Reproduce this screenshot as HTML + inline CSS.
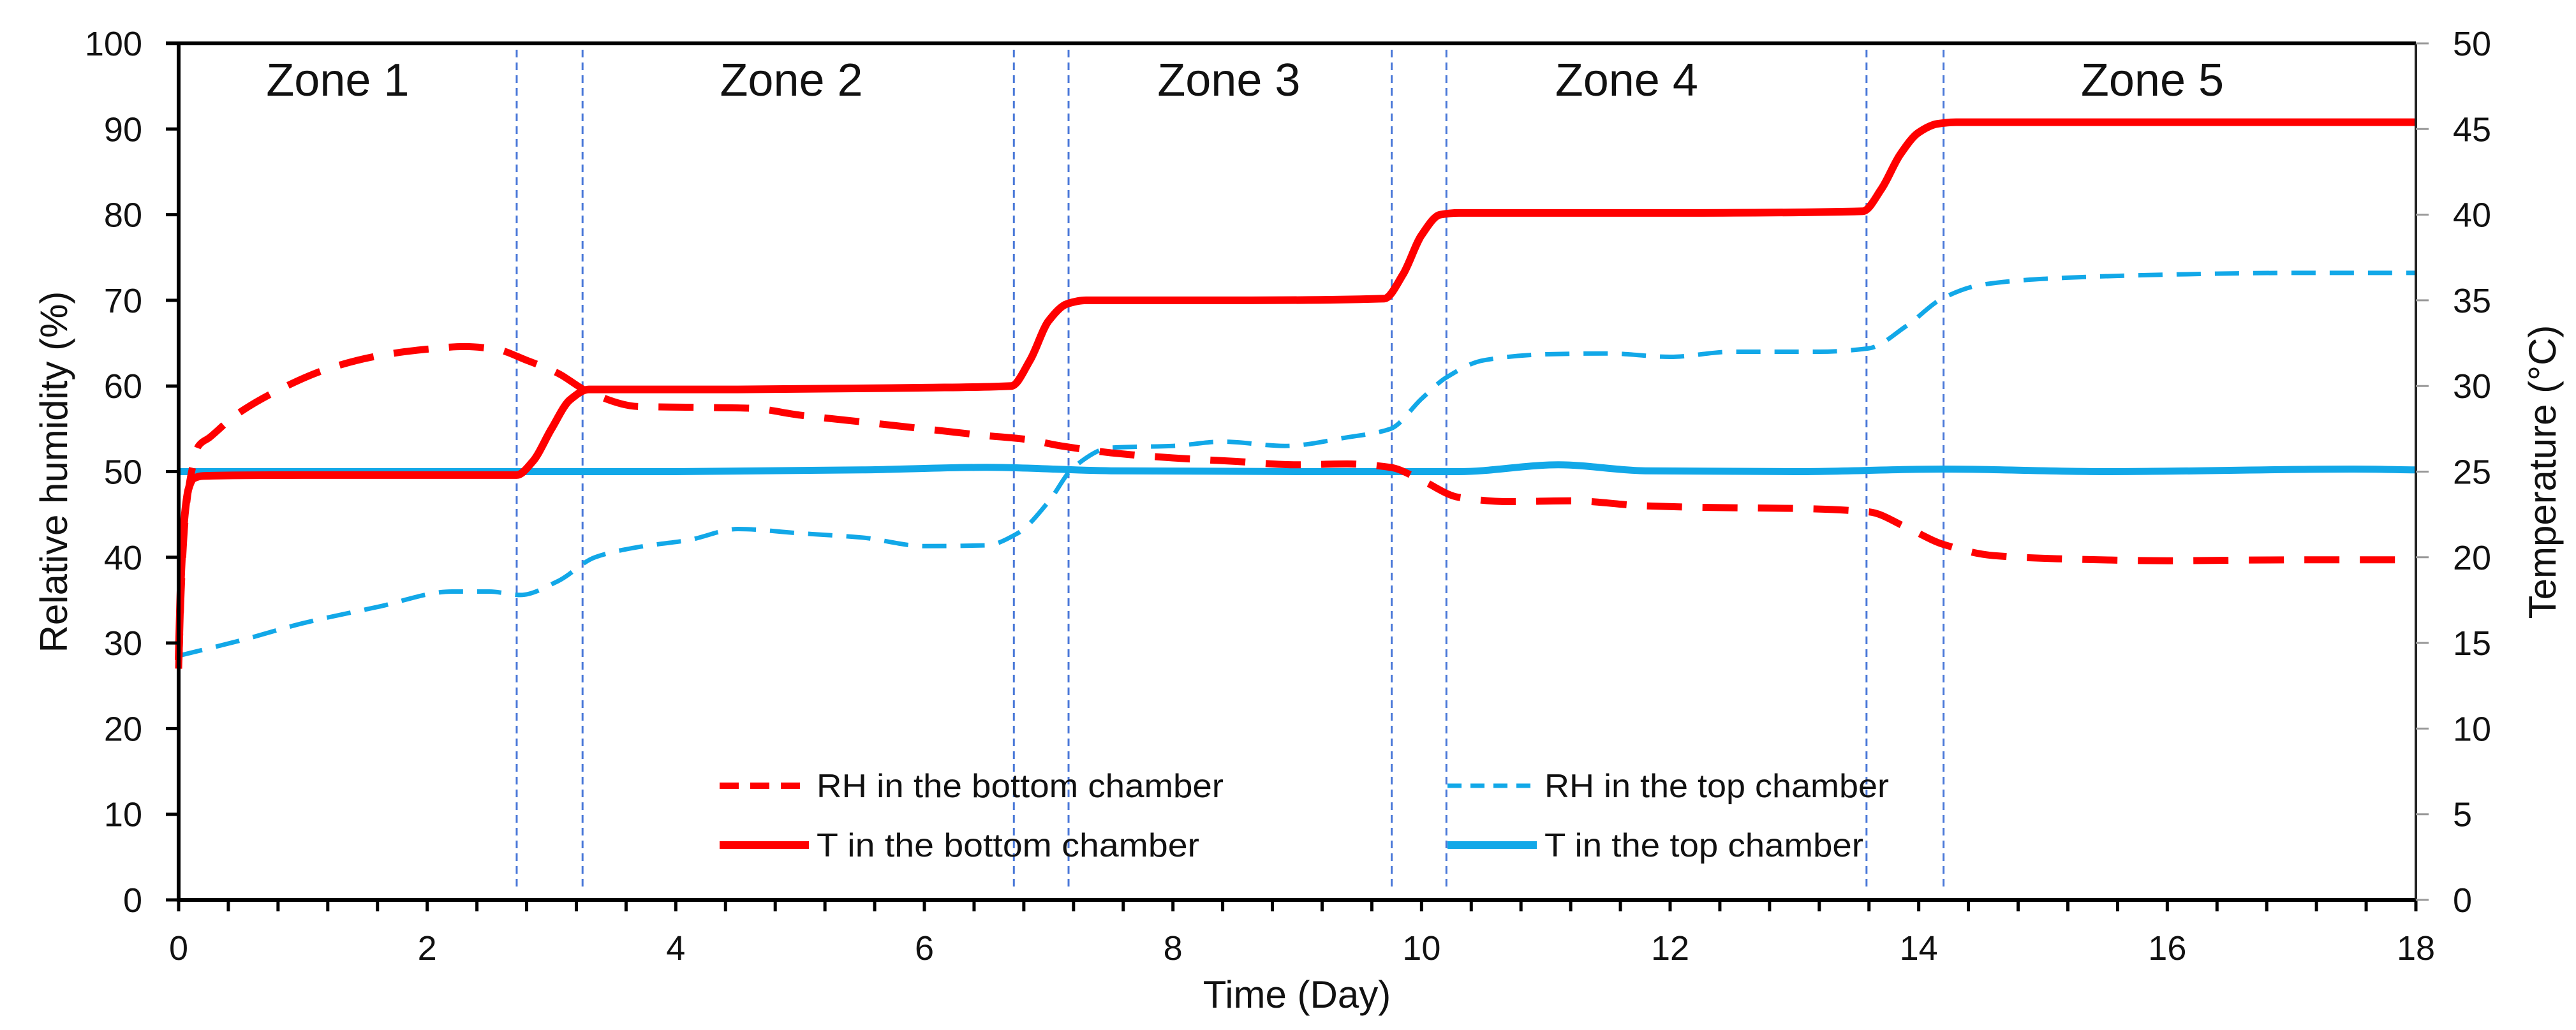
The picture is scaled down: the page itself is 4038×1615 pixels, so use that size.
<!DOCTYPE html>
<html><head><meta charset="utf-8"><style>
html,body{margin:0;padding:0;background:#fff;}
svg{display:block;}
text{font-family:"Liberation Sans",sans-serif;fill:#111;}
</style></head><body>
<svg id="chart" width="4038" height="1615" viewBox="0 0 4038 1615" xmlns="http://www.w3.org/2000/svg">
<rect width="4038" height="1615" fill="#fff"/>
<g id="grid"></g><g id="series"></g><g id="axes"></g><g id="labels"></g>
</svg>
<script>
const zoneBounds=[2.72,3.25,6.72,7.16,9.76,10.2,13.58,14.2];
const zoneNames=["Zone 1","Zone 2","Zone 3","Zone 4","Zone 5"];
const zoneCenters=[1.28,4.93,8.45,11.65,15.88];
const leftTicks=[0,10,20,30,40,50,60,70,80,90,100];
const rightTicks=[0,5,10,15,20,25,30,35,40,45,50];
const xTicks=[0,2,4,6,8,10,12,14,16,18];
const rhBottomDays=[0,0.02,0.05,0.08,0.12,0.16,0.25,0.45,0.8,1.2,1.6,2.0,2.3,2.55,2.8,3.05,3.3,3.7,4.2,4.6,5.0,5.5,6.0,6.5,6.8,7.1,7.5,8.0,8.5,9.0,9.4,9.75,10.0,10.3,10.7,11.2,11.8,12.4,13.0,13.6,13.9,14.2,14.6,15.2,16.0,17.0,18.0];
const rhBottomVals=[27,36,44,48,51,53,54,56.5,59.5,62,63.5,64.3,64.6,64.3,63,61.5,59.3,57.6,57.5,57.4,56.6,55.8,55,54.2,53.8,53,52.2,51.6,51.2,50.8,50.9,50.5,49,47,46.5,46.6,46,45.8,45.7,45.3,43.5,41.5,40.2,39.8,39.6,39.7,39.7];
const rhTopDays=[0,0.5,1.0,1.6,2.2,2.5,2.75,3.05,3.35,3.7,4.1,4.5,5.0,5.5,6.0,6.5,6.75,7.0,7.2,7.5,8.0,8.4,8.9,9.4,9.75,10.0,10.2,10.5,11.0,11.5,12.0,12.5,13.2,13.6,13.9,14.2,14.5,15.0,16.0,17.0,18.0];
const rhTopVals=[28.5,30.3,32.3,34.2,36,36,35.6,37.2,40,41.2,42,43.3,42.8,42.3,41.3,41.4,42.8,46.5,50.5,52.8,53,53.5,53,54,55,58.5,61,63,63.7,63.8,63.4,64,64,64.4,67,70.3,71.8,72.5,73,73.2,73.2];
const tBottomDays=[0,0.02,0.05,0.08,0.12,0.2,1.0,2.0,2.72,2.85,3.0,3.15,3.3,4.5,6.0,6.7,6.85,7.0,7.15,7.3,8.5,9.7,9.85,10.0,10.15,10.3,12.0,13.55,13.7,13.85,14.0,14.15,14.3,16.0,18.0];
const tBottomVals=[14,19,22.5,24,24.6,24.75,24.8,24.8,24.8,25.6,27.5,29.2,29.8,29.8,29.9,30,31.5,33.8,34.8,35,35,35.1,36.5,38.8,40,40.1,40.1,40.2,41.5,43.5,44.8,45.3,45.4,45.4,45.4];
const tTopDays=[0,2,4,5.5,6.5,7.5,9,10.3,11.1,11.8,13,14.2,15.5,17.5,18];
const tTopVals=[25,25,25,25.1,25.25,25.05,25,25,25.4,25.05,25,25.15,25,25.15,25.1];

const X0=280,X1=3787,Y0=1411,Y1=68,NS="http://www.w3.org/2000/svg";
const xs=d=>X0+(X1-X0)*d/18;
const yl=v=>Y0-(Y0-Y1)*v/100;
const yr=v=>Y0-(Y0-Y1)*v/50;
function mk(tag,attrs,parent,txt){const e=document.createElementNS(NS,tag);for(const k in attrs)e.setAttribute(k,attrs[k]);if(txt!==undefined)e.textContent=txt;document.getElementById(parent).appendChild(e);return e;}
function pathFrom(ds,vs,yf){const p=ds.map((d,i)=>[xs(d),yf(vs[i])]);const n=p.length;
const dl=[],m=new Array(n).fill(0);
for(let i=0;i<n-1;i++)dl.push((p[i+1][1]-p[i][1])/(p[i+1][0]-p[i][0]));
m[0]=dl[0];m[n-1]=dl[n-2];
for(let i=1;i<n-1;i++){if(dl[i-1]*dl[i]<=0)m[i]=0;else{const w1=2*(p[i+1][0]-p[i][0])+(p[i][0]-p[i-1][0]),w2=(p[i+1][0]-p[i][0])+2*(p[i][0]-p[i-1][0]);m[i]=(w1+w2)/(w1/dl[i-1]+w2/dl[i]);}}
let s="M"+p[0][0].toFixed(1)+","+p[0][1].toFixed(1);
for(let i=0;i<n-1;i++){const h=(p[i+1][0]-p[i][0])/3;
s+=" C"+(p[i][0]+h).toFixed(1)+","+(p[i][1]+m[i]*h).toFixed(1)+" "+(p[i+1][0]-h).toFixed(1)+","+(p[i+1][1]-m[i+1]*h).toFixed(1)+" "+p[i+1][0].toFixed(1)+","+p[i+1][1].toFixed(1);}
return s;}

zoneBounds.forEach(d=>{const l=mk("line",{x1:xs(d),x2:xs(d),y1:78,y2:1395,stroke:"#4a78d8","stroke-width":3,"stroke-dasharray":"12 8"},"grid");

});
zoneNames.forEach((n,i)=>{const t=mk("text",{x:xs(zoneCenters[i]),y:150,"font-size":72,"text-anchor":"middle"},"labels",n);

});

let s;
s=mk("path",{d:pathFrom(tTopDays,tTopVals,yr),fill:"none",stroke:"#12a8e8","stroke-width":11,"stroke-linejoin":"round"},"series");


s=mk("path",{d:pathFrom(rhTopDays,rhTopVals,yl),fill:"none",stroke:"#12a8e8","stroke-width":7,"stroke-dasharray":"38 22"},"series");


s=mk("path",{d:pathFrom(rhBottomDays,rhBottomVals,yl),fill:"none",stroke:"#ff0000","stroke-width":11,"stroke-dasharray":"55 32"},"series");


s=mk("path",{d:pathFrom(tBottomDays,tBottomVals,yr),fill:"none",stroke:"#ff0000","stroke-width":12,"stroke-linejoin":"round"},"series");



let a;
a=mk("path",{d:`M${X0},${Y1} V${Y0} H${X1} M${X0-20},${Y1} H${X1}`,fill:"none",stroke:"#000","stroke-width":6},"axes");


a=mk("line",{x1:X1,x2:X1,y1:Y1,y2:Y0,stroke:"#222","stroke-width":4},"axes");


for(let k=0;k<=45;k++){const d=k*0.4;const m=mk("line",{x1:xs(d),x2:xs(d),y1:Y0,y2:Y0+18,stroke:"#000","stroke-width":5},"axes");

}
xTicks.forEach(d=>{const t=mk("text",{x:xs(d),y:1505,"font-size":54,"text-anchor":"middle"},"labels",d);

});
leftTicks.forEach(v=>{const m=mk("line",{x1:X0-20,x2:X0,y1:yl(v),y2:yl(v),stroke:"#000","stroke-width":5},"axes");


const t=mk("text",{x:223,y:yl(v)+19,"font-size":54,"text-anchor":"end"},"labels",v);

});
rightTicks.forEach(v=>{const m=mk("line",{x1:X1,x2:X1+20,y1:yr(v),y2:yr(v),stroke:"#999","stroke-width":3},"axes");


const t=mk("text",{x:3845,y:yr(v)+19,"font-size":54,"text-anchor":"start"},"labels",v);

});

let t;
t=mk("text",{x:2033,y:1580,"font-size":60,"text-anchor":"middle"},"labels","Time (Day)");


t=mk("text",{x:0,y:0,"font-size":60,"text-anchor":"middle",transform:"translate(105,740) rotate(-90)"},"labels","Relative humidity (%)");


t=mk("text",{x:0,y:0,"font-size":60,"text-anchor":"middle",transform:"translate(4006,740) rotate(-90)"},"labels","Temperature (°C)");



const legend=[["RH in the bottom chamber","#ff0000",10,"30 18",1128,1232,638],["T in the bottom chamber","#ff0000",12,"",1128,1325,600],["RH in the top chamber","#12a8e8",7,"22 14",2269,1232,540],["T in the top chamber","#12a8e8",12,"",2269,1325,500]];
legend.forEach(L=>{const ln=mk("line",{x1:L[4],x2:L[4]+140,y1:L[5],y2:L[5],stroke:L[1],"stroke-width":L[2],"stroke-dasharray":L[3]},"labels");


const tx=mk("text",{x:L[4]+152,y:L[5]+18,"font-size":52,textLength:L[6],lengthAdjust:"spacingAndGlyphs"},"labels",L[0]);

});
</script>
</body></html>
